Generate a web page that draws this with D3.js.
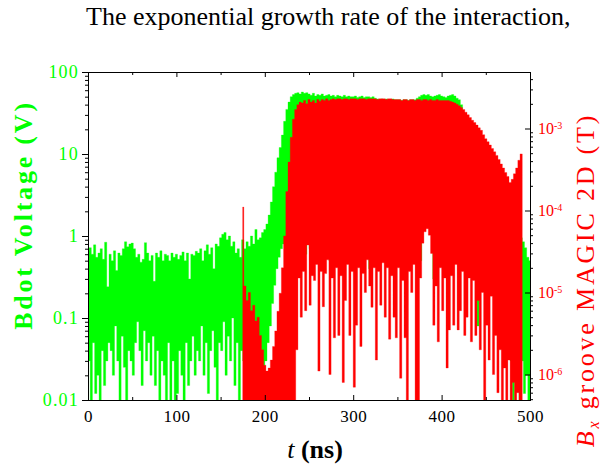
<!DOCTYPE html>
<html>
<head>
<meta charset="utf-8">
<script src="https://d3js.org/d3.v7.min.js"></script>
<style>
  body { margin: 0; background: #fff; }
  svg text { font-family: "Liberation Serif", "Times New Roman", serif; }
</style>
</head>
<body>
<div id="chart"></div>
<script>

// Bdot probe signal (V), peaks at t = 0, 2.5, ... 500 ns, troughs half a step later
const greenStart = 0, greenStep = 2.5;
const greenPeak = [
  .65,.72,.6,.78,.55,.62,.7,.52,.84,.24,
  .6,.5,.66,.38,.62,.58,.7,.85,.74,.8,
  .82,.7,.55,.6,.48,.52,.83,.62,.5,.58,
  .28,.62,.55,.66,.5,.6,.58,.5,.62,.55,
  .6,.52,.58,.64,.5,.62,.3,.6,.58,.65,
  .62,.7,.5,.66,.78,.6,.72,.4,.8,.75,
  .95,1.05,1.1,.9,1,.75,.85,.62,.7,.55,
  .9,.7,.85,.75,1,.8,1.2,.9,.95,1.1,
  1.2,1.4,1.8,2.6,4,6,9,12,17,25,
  35,43,50,53,55,56,54,57,55,56,
  54,52,55,51,53,52,54,51,52,53,
  51,52,50,52,51,50,52,50,51,50,
  50,51,49,50,51,49,50,50,49,50,
  48,47,46,47,46,47,46,46,47,46,
  46,46,45,46,46,45,46,46,46,48,
  50,52,53,52,53,51,50,51,52,53,
  51,50,49,51,52,53,51,48,46,40,
  32,25,19,15,12,9,7,5.5,4.2,3.4,
  2.8,2.3,2,1.7,1.5,1.3,1.2,1.1,1,1.05,
  .95,.9,.85,.8,.9,.95,.95,.85,.72,.55,
  .5
];
const greenTrough = [
  .03,.008,.05,.012,.02,.006,.04,.015,.03,.05,
  .04,.02,.08,.03,.01,.06,.025,.007,.04,.03,
  .02,.05,.09,.04,.015,.07,.03,.05,.02,.06,
  .015,.04,.008,.03,.02,.006,.05,.01,.03,.009,
  .012,.04,.02,.007,.05,.015,.03,.06,.02,.04,
  .03,.08,.02,.05,.012,.04,.07,.025,.006,.05,
  .04,.09,.02,.06,.03,.1,.015,.05,.008,.04,
  .03,.05,.04,.06,.035,.03,.028,.025,.03,.026,
  .03,.05,.08,.15,.25,.4,.55,.7,.8,.9,
  .8,.6,.5,.7,.9,.4,.8,1,.6,.9,
  .7,1,.5,.8,1.2,.6,.9,.7,1.1,.5,
  .8,1,.6,.9,.7,1.2,.5,.8,1,.6,
  .9,.7,.5,1,.8,.6,.9,.4,.8,1,
  .6,.9,.7,.5,.8,1,.6,.9,.7,.8,
  1,.6,.8,.7,.9,.5,.8,.6,.9,.7,
  .5,1.4,1.8,2,1.7,1.2,.3,.6,.9,.7,
  .8,.6,.9,.7,.5,.8,.6,.7,.9,.5,
  .6,.7,.4,.8,.6,.5,.08,.6,.7,.5,
  .4,.6,.5,.3,.4,.2,.3,.15,.1,.2,
  .06,.03,.01,.05,.02,.008,.03,.012,.02,.01
];

// MAGIC 2D Bx in the groove (T), peaks at t = 175, 177.5, ... 490 ns
const redStart = 175, redStep = 2.5;
const redPeak = [
  1.1e-4,1.2e-5,8e-6,1e-5,6e-6,7e-6,4.5e-6,5e-6,3e-6,2e-6,
  1.3e-6,1.1e-6,1.2e-6,1.5e-6,2.2e-6,3.4e-6,5.9e-6,9.8e-6,2e-5,4.9e-5,
  1.7e-4,3.9e-4,7.8e-4,1.3e-3,1.7e-3,1.95e-3,2.1e-3,2.05e-3,2.2e-3,2e-3,
  2.25e-3,2.1e-3,2.2e-3,2.05e-3,2.25e-3,2.15e-3,2.25e-3,2.2e-3,2.3e-3,2.2e-3,
  2.25e-3,2.3e-3,2.25e-3,2.3e-3,2.3e-3,2.25e-3,2.3e-3,2.3e-3,2.25e-3,2.3e-3,
  2.3e-3,2.3e-3,2.25e-3,2.3e-3,2.3e-3,2.3e-3,2.25e-3,2.3e-3,2.3e-3,2.3e-3,
  2.3e-3,2.25e-3,2.3e-3,2.3e-3,2.3e-3,2.25e-3,2.3e-3,2.3e-3,2.25e-3,2.25e-3,
  2.25e-3,2.25e-3,2.2e-3,2.25e-3,2.25e-3,2.2e-3,2.25e-3,2.25e-3,2.2e-3,2.25e-3,
  2.25e-3,2.2e-3,2.25e-3,2.25e-3,2.2e-3,2.25e-3,2.2e-3,2.2e-3,2.25e-3,2.2e-3,
  2.2e-3,2.2e-3,2.2e-3,2.2e-3,2.15e-3,2.1e-3,2.05e-3,1.98e-3,1.9e-3,1.8e-3,
  1.7e-3,1.58e-3,1.47e-3,1.36e-3,1.26e-3,1.18e-3,1.1e-3,1.02e-3,9.5e-4,8.4e-4,
  7.5e-4,6.9e-4,6.3e-4,5.7e-4,5.2e-4,4.7e-4,4.2e-4,3.7e-4,3.3e-4,2.9e-4,
  2.6e-4,2.2e-4,2.4e-4,2.8e-4,3.3e-4,4.1e-4,4.9e-4
];
const redTrough = [
  3e-7,3e-7,3e-7,3e-7,3e-7,3e-7,3e-7,3e-7,3e-7,3e-7,
  3e-7,3e-7,3e-7,3e-7,3e-7,3e-7,3e-7,3e-7,3e-7,3e-7,
  3e-7,3e-7,3e-7,3e-7,2e-6,1.5e-5,5e-6,1.8e-5,6e-6,3.8e-5,
  7e-6,1.6e-5,1.4e-5,2.2e-5,1.1e-6,1.8e-5,6.7e-6,1.7e-5,2.5e-5,1e-6,
  1.5e-5,2.8e-6,2e-5,3e-6,1.6e-5,8e-7,8e-6,2.2e-5,3e-6,1.8e-5,
  7e-7,4e-6,2e-5,2.2e-6,1.7e-5,1e-5,2.5e-5,1.2e-5,6.6e-6,2e-5,
  1.5e-6,1.8e-5,7e-6,2.3e-5,5e-6,2e-5,2.7e-6,1.6e-5,5e-6,2.8e-6,
  2e-5,9e-7,1.4e-5,2.8e-6,3e-7,1.8e-5,1e-5,2.2e-5,4e-7,3e-7,
  1.5e-5,4e-5,5.5e-5,6e-5,5e-5,3e-5,4e-6,1.2e-5,2.5e-6,2e-5,
  6e-6,1.5e-5,1.2e-6,3.5e-6,1.6e-5,4e-6,2.2e-5,3.5e-6,6e-6,1.8e-5,
  3e-6,5e-6,1.5e-5,2.5e-6,1.4e-5,3e-6,8e-6,2e-6,1e-5,3e-7,
  4e-6,1.5e-6,9e-6,1e-6,3e-6,6e-7,2e-6,3e-7,1.2e-6,4e-7,
  1.5e-6,3e-7,8e-7,3e-7,6e-7,3e-7,3e-7
];

const leftTicks = [0.01, 0.1, 1, 10, 100];
const rightTicks = [1e-6, 1e-5, 1e-4, 1e-3];
const xTicks = [0, 100, 200, 300, 400, 500];
const xMinor = [50, 150, 250, 350, 450];

const width = 609, height = 469;
const pL = 88, pR = 530, pT = 72, pB = 400;
const green = "#00ff00", red = "#ff0000";

const x = d3.scaleLinear().domain([0, 500]).range([pL, pR]);
const yL = d3.scaleLog().domain([0.01, 100]).range([pB, pT]);
// 1e-6 T sits at y=374.5 and 1e-3 T at y=128.5 in the figure
const yR = d3.scaleLog().domain([1e-6, 1e-3]).range([374.5, 128.5]);
yR.domain([yR.invert(pB), yR.invert(pT)]).range([pB, pT]);

function logMinors(scale) {
    const [a, b] = scale.domain();
    const out = [];
    for (let e = Math.floor(Math.log10(a)); e <= Math.ceil(Math.log10(b)); e++) {
        for (let k = 2; k <= 9; k++) {
            const v = k * Math.pow(10, e);
            if (v >= a && v <= b) out.push(v);
        }
    }
    return out;
}

// peak / trough samples alternate, so the trace sweeps up and down;
// each sweep covers one narrow column from the lower to the higher sample
function sweeps(t0, step, peaks, troughs) {
    const pts = [];
    peaks.forEach((p, i) => {
        pts.push([t0 + i * step, p]);
        if (i < troughs.length) pts.push([t0 + i * step + step / 2, troughs[i]]);
    });
    const cols = [];
    for (let k = 0; k < pts.length - 1; k++) {
        const a = pts[k][1], b = pts[k + 1][1];
        cols.push({ t: pts[k][0], lo: Math.min(a, b), hi: Math.max(a, b) });
    }
    const last = cols[cols.length - 1];
    cols.push({ t: pts[pts.length - 1][0], lo: last.lo, hi: last.hi });
    return cols;
}

const svg = d3.select("#chart").append("svg")
    .attr("width", width).attr("height", height);

svg.append("defs").append("clipPath").attr("id", "plot")
    .append("rect").attr("x", pL).attr("y", pT)
    .attr("width", pR - pL).attr("height", pB - pT);

const plot = svg.append("g").attr("clip-path", "url(#plot)");

const areaL = d3.area().curve(d3.curveStepAfter)
    .x(d => x(d.t)).y0(d => yL(d.lo)).y1(d => yL(d.hi));
const areaR = d3.area().curve(d3.curveStepAfter)
    .x(d => x(d.t)).y0(d => yR(d.lo)).y1(d => yR(d.hi));

plot.append("path")
    .datum(sweeps(greenStart, greenStep, greenPeak, greenTrough))
    .attr("d", areaL)
    .attr("fill", green).attr("stroke", green).attr("stroke-width", 0.3);

plot.append("path")
    .datum(sweeps(redStart, redStep, redPeak, redTrough))
    .attr("d", areaR)
    .attr("fill", red).attr("stroke", red).attr("stroke-width", 0.3);

// frame
svg.append("rect")
    .attr("x", pL + 0.5).attr("y", pT + 0.5)
    .attr("width", pR - pL).attr("height", pB - pT)
    .attr("fill", "none").attr("stroke", "#000");

function clean(g) {
    g.attr("color", "#000").attr("font-family", null);
    g.select(".domain").remove();
}

// left axis
svg.append("g").attr("transform", `translate(${pL},0)`)
    .call(d3.axisLeft(yL).tickValues(logMinors(yL)).tickSize(3).tickFormat(""))
    .call(clean);
svg.append("g").attr("transform", `translate(${pL},0)`)
    .call(d3.axisLeft(yL).tickValues(leftTicks).tickSize(6).tickPadding(3).tickFormat(d => String(d)))
    .call(clean)
    .attr("font-size", 18)
    .call(g => g.selectAll("text").attr("fill", green).style("letter-spacing", "1.2px"));

// right axis
svg.append("g").attr("transform", `translate(${pR},0)`)
    .call(d3.axisRight(yR).tickValues(logMinors(yR)).tickSize(3).tickFormat(""))
    .call(clean);
svg.append("g").attr("transform", `translate(${pR},0)`)
    .call(d3.axisRight(yR).tickValues(rightTicks).tickSize(-5).tickPadding(8).tickFormat(""))
    .call(clean)
    .attr("font-size", 16)
    .call(g => g.selectAll(".tick text")
        .attr("fill", red)
        .each(function(d) {
            const t = d3.select(this);
            t.append("tspan").text("10");
            t.append("tspan").attr("dy", "-0.55em").attr("font-size", 10)
                .text("-" + Math.round(-Math.log10(d)));
        }));

// bottom axis
svg.append("g").attr("transform", `translate(0,${pB})`)
    .call(d3.axisBottom(x).tickValues(xMinor).tickSize(-3).tickFormat(""))
    .call(clean);
svg.append("g").attr("transform", `translate(0,${pB})`)
    .call(d3.axisBottom(x).tickValues(xTicks).tickSize(-5).tickPadding(10))
    .call(clean)
    .attr("font-size", 17)
    .call(g => g.selectAll("text").attr("fill", "#000").style("letter-spacing", "0.5px"));

// top axis, ticks only
svg.append("g").attr("transform", `translate(0,${pT})`)
    .call(d3.axisTop(x).tickValues(xMinor).tickSize(-3).tickFormat(""))
    .call(clean);
svg.append("g").attr("transform", `translate(0,${pT})`)
    .call(d3.axisTop(x).tickValues(xTicks).tickSize(-5).tickFormat(""))
    .call(clean);

// titles
svg.append("text")
    .attr("x", 86).attr("y", 25)
    .attr("font-size", 26).attr("fill", "#000")
    .text("The exponential growth rate of the interaction,");

const xt = svg.append("text")
    .attr("x", 315).attr("y", 458).attr("text-anchor", "middle")
    .attr("font-size", 26).attr("fill", "#000");
xt.append("tspan").attr("font-style", "italic").text("t");
xt.append("tspan").attr("font-weight", "bold").text(" (ns)");

svg.append("text")
    .attr("transform", "translate(32,215) rotate(-90)")
    .attr("text-anchor", "middle")
    .attr("font-size", 26).attr("font-weight", "bold").attr("fill", green)
    .style("letter-spacing", "2.8px")
    .text("Bdot Voltage (V)");

const rt = svg.append("text")
    .attr("transform", "translate(594,280) rotate(-90)")
    .attr("text-anchor", "middle")
    .attr("font-size", 26).attr("fill", red)
    .style("letter-spacing", "2.8px");
rt.append("tspan").attr("font-style", "italic").text("B");
rt.append("tspan").attr("font-style", "italic").attr("font-size", 16).attr("dy", 5).text("x");
rt.append("tspan").attr("dy", -5).text(" groove MAGIC 2D (T)");

</script>
</body>
</html>
